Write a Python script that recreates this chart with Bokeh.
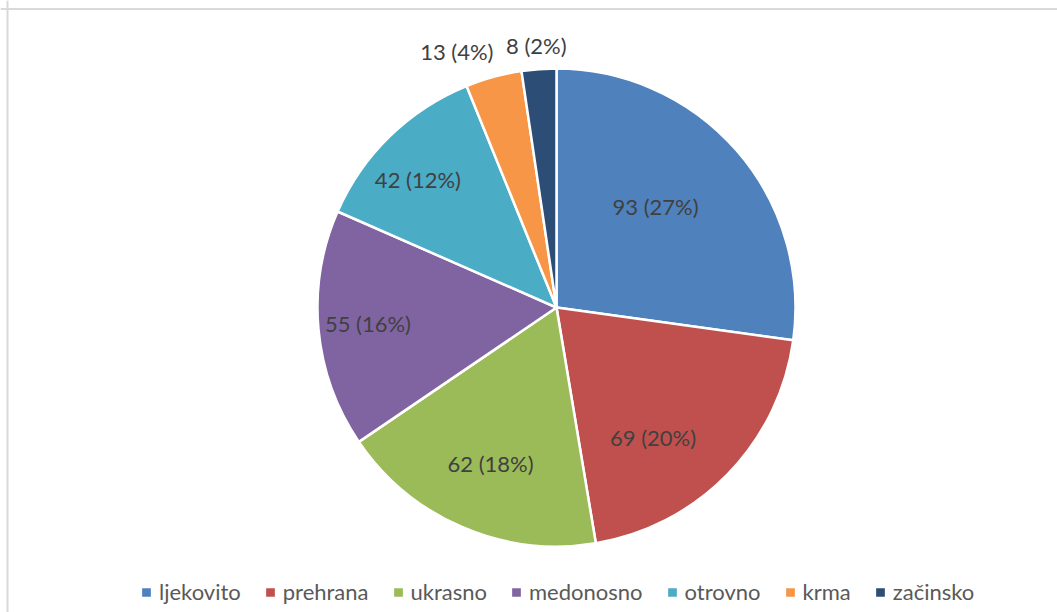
import math
from bokeh.plotting import figure
from bokeh.models import ColumnDataSource, Range1d, Legend, LegendItem, Span
from bokeh.core.properties import value
from bokeh.embed import file_html
from bokeh.resources import INLINE

# ---- data ----
categories = ["ljekovito", "prehrana", "ukrasno", "medonosno", "otrovno", "krma", "začinsko"]
counts = [93, 69, 62, 55, 42, 13, 8]
colors = ["#4F81BD", "#C0504D", "#9BBB59", "#8064A2", "#4BACC6", "#F79646", "#2C4D75"]

# ---- label placement style (Excel "best fit"): radius fraction and angle nudge (deg) ----
label_rfrac = [0.593, 0.679, 0.710, 0.792, 0.789, 1.150, 1.100]
label_dang = [-4.6, 9.3, -0.3, 0.3, -3.1, -6.0, -0.2]

W, H = 1057, 612
CX, CY, R = 556, 305, 239

total = sum(counts)
starts, ends, mids = [], [], []
cum = 0
for c in counts:
    a0 = cum / total * 2 * math.pi
    cum += c
    a1 = cum / total * 2 * math.pi
    starts.append(math.pi / 2 - a0)
    ends.append(math.pi / 2 - a1)
    mids.append((a0 + a1) / 2)

labels = [f"{c} ({round(c / total * 100)}%)" for c in counts]
lx, ly = [], []
for m, rf, da in zip(mids, label_rfrac, label_dang):
    a = m + math.radians(da)
    lx.append(CX + rf * R * math.sin(a))
    ly.append(CY + rf * R * math.cos(a))

src = ColumnDataSource(dict(cat=categories, start=starts, end=ends, color=colors))
lsrc = ColumnDataSource(dict(x=lx, y=ly, text=labels))

p = figure(width=W, height=H, x_range=Range1d(0, W), y_range=Range1d(0, H),
           output_backend="svg", toolbar_location=None,
           x_axis_location=None, y_axis_location=None, min_border=0)
p.xgrid.visible = False
p.ygrid.visible = False
p.outline_line_color = None
p.background_fill_color = "white"
p.border_fill_color = "white"

wr = p.wedge(x=CX, y=CY, radius=R, start_angle="start", end_angle="end",
             direction="clock", fill_color="color", line_color="white",
             line_width=2.5, source=src)

p.text(x="x", y="y", text="text", source=lsrc, text_align="center",
       text_baseline="middle", text_font=value("Lato"), text_font_size="22px",
       text_color="#404040")

# chart-area border (left and top edges visible in the reference)
p.add_layout(Span(location=7, dimension="height", line_color="#d9d9d9", line_width=2))
p.add_layout(Span(location=H - 8.5, dimension="width", line_color="#d9d9d9", line_width=2))

items = [LegendItem(label=cat, renderers=[wr], index=i) for i, cat in enumerate(categories)]
legend = Legend(items=items, orientation="horizontal", location=(139, 7),
                glyph_width=14, glyph_height=14, label_standoff=6, spacing=22,
                padding=0, margin=0, border_line_color=None, background_fill_alpha=0,
                label_text_font="Lato", label_text_font_size="22px",
                label_text_color="#595959", label_height=20)
p.add_layout(legend)

open("out.html", "w").write(file_html(p, INLINE))
